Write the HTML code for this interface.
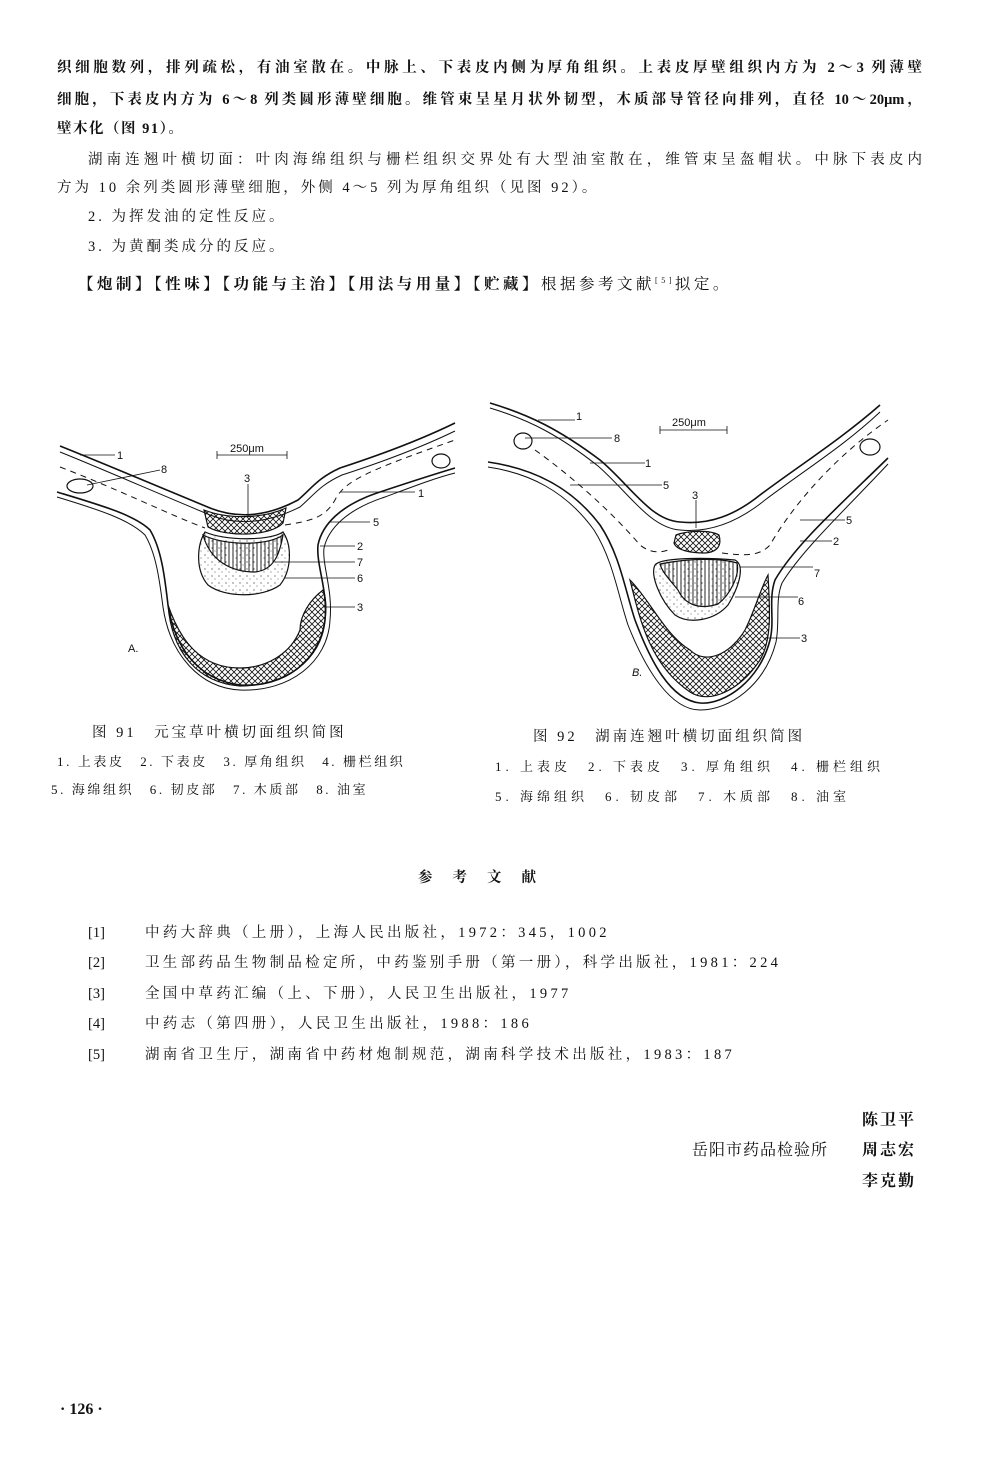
<!DOCTYPE html>
<html><head><meta charset="utf-8"><style>
body{margin:0;background:#fff;}
#p{position:relative;width:990px;height:1482px;overflow:hidden;background:#fff;color:#111;font-family:"Liberation Serif","Noto Serif CJK SC","Noto Sans CJK SC",serif;}
.l{position:absolute;white-space:nowrap;font-size:14.5px;line-height:18px;}
.j{text-align:justify;text-align-last:justify;white-space:normal;}
.b{font-weight:bold;}
.s{font-size:13px;}
svg{position:absolute;left:0;top:0;}
svg text{font-family:"Liberation Sans",sans-serif;font-size:11px;fill:#111;}
</style></head><body><div id="p">
<div class="l j b" style="left:57px;top:59px;width:865px">织细胞数列，排列疏松，有油室散在。中脉上、下表皮内侧为厚角组织。上表皮厚壁组织内方为 2～3 列薄壁</div>
<div class="l j b" style="left:57px;top:91px;width:865px">细胞，下表皮内方为 6～8 列类圆形薄壁细胞。维管束呈星月状外韧型，木质部导管径向排列，直径 10～20μm，</div>
<div class="l b" style="left:57px;top:120px;letter-spacing:1.5px">壁木化（图 91）。</div>
<div class="l j" style="left:88px;top:151px;width:834px">湖南连翘叶横切面：叶肉海绵组织与栅栏组织交界处有大型油室散在，维管束呈盔帽状。中脉下表皮内</div>
<div class="l" style="left:57px;top:179px;letter-spacing:3px">方为 10 余列类圆形薄壁细胞，外侧 4～5 列为厚角组织（见图 92）。</div>
<div class="l" style="left:88px;top:208px;letter-spacing:3px">2. 为挥发油的定性反应。</div>
<div class="l" style="left:88px;top:238px;letter-spacing:3px">3. 为黄酮类成分的反应。</div>
<div class="l" style="left:78px;top:272px;font-size:15.5px;letter-spacing:3.5px"><b>【炮制】【性味】【功能与主治】【用法与用量】【贮藏】</b>根据参考文献<sup style="font-size:8px">[5]</sup>拟定。</div>

<svg width="990" height="1482" viewBox="0 0 990 1482" fill="none" stroke="#111">
<defs>
<pattern id="x" width="6" height="6" patternUnits="userSpaceOnUse"><path d="M0 0L6 6M6 0L0 6" stroke="#111" stroke-width="0.8"/></pattern>
<pattern id="v" width="4" height="6" patternUnits="userSpaceOnUse"><path d="M1 0V6" stroke="#111" stroke-width="0.9"/></pattern>
<pattern id="d" width="7" height="7" patternUnits="userSpaceOnUse"><circle cx="2" cy="2" r="0.6" fill="#333" stroke="none"/><circle cx="5" cy="5" r="0.5" fill="#333" stroke="none"/></pattern>
</defs>
<g stroke-width="1.6">
<path d="M60 446 C100 462 150 483 210 508 C240 520 270 515 298 500 C312 488 318 478 340 468 C380 455 420 440 455 423"/>
<path d="M60 452 C100 468 150 490 210 515 C240 527 270 522 300 507 C314 495 320 485 342 475 C382 462 420 448 455 431" stroke-width="1"/>
<path d="M57 492 C100 505 135 515 150 530 C162 550 165 580 168 605 C175 650 200 680 240 685 C285 688 320 660 325 620 C328 590 316 565 318 545 C322 525 340 505 380 492 C410 482 435 474 455 468"/>
<path d="M57 497 C100 510 130 520 145 535 C157 555 160 585 163 607 C170 655 200 688 240 690 C290 692 328 662 330 620 C333 590 322 565 324 548 C328 530 345 510 385 497 C412 487 435 478 455 473" stroke-width="1"/>
<path d="M60 467 C120 490 170 515 205 528" stroke-dasharray="6 5" stroke-width="1"/>
<path d="M285 525 C310 521 325 518 335 500 C345 480 370 470 455 440" stroke-dasharray="6 5" stroke-width="1"/>
<ellipse cx="80" cy="486" rx="13" ry="7" stroke-width="1.2"/>
<ellipse cx="441" cy="461" rx="9" ry="7" stroke-width="1.2"/>
<path d="M204 510 C230 520 265 518 286 508 L283 523 C270 537 225 537 208 527 Z" fill="url(#x)" stroke-width="1.2"/>
<path d="M205 532 C197 545 195 570 208 585 C225 598 262 598 280 585 C292 570 292 545 283 532 C270 541 225 541 205 532 Z" fill="url(#d)" stroke-width="1.2"/>
<path d="M203 535 C210 560 230 572 255 572 C275 570 280 552 283 535 C268 546 225 546 203 535 Z" fill="url(#v)" stroke-width="1.2"/>
<path d="M168 605 C172 655 200 683 240 686 C285 686 322 660 325 620 C327 605 325 595 323 590 C310 600 300 615 300 630 C290 655 265 668 240 668 C200 668 180 640 168 605 Z" fill="url(#x)" stroke-width="1.2"/>
</g>
<g stroke-width="0.8">
<path d="M80 455H115M87 485L160 470M217 455H287M217 451V459M287 451V459M248 484V516M340 492H415M330 522H370M320 546H355M275 562H355M285 578H355M323 607H355"/>
</g>
<g stroke="none">
<text x="117" y="459">1</text><text x="161" y="473">8</text><text x="230" y="452" font-size="10">250μm</text><text x="244" y="482">3</text>
<text x="418" y="497">1</text><text x="373" y="526">5</text><text x="357" y="550">2</text><text x="357" y="566">7</text><text x="357" y="582">6</text><text x="357" y="611">3</text>
<text x="128" y="652" font-size="15">A.</text>
</g>
<g stroke-width="1.6">
<path d="M490 403 C530 415 560 430 600 460 C630 485 650 520 680 522 C710 525 735 515 760 495 C800 465 840 440 880 405"/>
<path d="M490 408 C530 420 560 436 598 466 C628 492 650 528 680 530 C710 533 738 522 765 500 C805 470 845 445 880 412" stroke-width="1"/>
<path d="M488 462 C530 468 570 485 600 525 C620 555 625 590 635 620 C650 660 670 700 700 703 C725 705 760 680 770 640 C775 620 768 600 775 580 C795 545 840 505 888 458"/>
<path d="M488 467 C528 473 565 490 594 530 C613 560 618 595 628 625 C645 668 670 710 700 710 C730 710 765 685 776 642 C780 622 775 600 782 583 C802 550 845 510 888 464" stroke-width="1"/>
<path d="M535 450 C570 475 610 510 640 545 C650 553 660 553 668 550" stroke-dasharray="6 5" stroke-width="1"/>
<path d="M722 553 C745 556 760 556 770 545 C790 510 830 460 888 420" stroke-dasharray="6 5" stroke-width="1"/>
<ellipse cx="523" cy="441" rx="9" ry="8" stroke-width="1.2"/>
<ellipse cx="870" cy="447" rx="10" ry="8" stroke-width="1.2"/>
<path d="M676 535 C690 530 710 530 719 535 C722 545 718 552 705 553 C690 553 676 550 674 543 Z" fill="url(#x)" stroke-width="1.2"/>
<path d="M655 565 C660 558 700 557 735 560 C745 565 740 585 728 605 C715 620 690 625 675 615 C660 600 650 575 655 565 Z" fill="url(#d)" stroke-width="1.2"/>
<path d="M660 564 C690 558 720 558 737 563 C740 575 730 595 718 604 C700 610 685 605 678 590 C670 580 662 572 660 564 Z" fill="url(#v)" stroke-width="1.2"/>
<path d="M630 580 C640 620 650 665 690 692 C710 705 740 690 760 660 C772 640 770 610 768 575 C760 590 755 610 745 630 C730 655 705 665 690 650 C665 635 650 600 630 580 Z" fill="url(#x)" stroke-width="1.2"/>
</g>
<g stroke-width="0.8">
<path d="M538 420H575M525 438H612M590 463H645M570 485H662M660 430H727M660 426V434M727 426V434M696 500V528M800 520H845M800 541H832M740 567H813M735 597H798M765 638H800"/>
</g>
<g stroke="none">
<text x="576" y="420">1</text><text x="614" y="442">8</text><text x="645" y="467">1</text><text x="663" y="489">5</text>
<text x="672" y="426" font-size="10">250μm</text><text x="692" y="499">3</text>
<text x="846" y="524">5</text><text x="833" y="545">2</text><text x="814" y="577">7</text><text x="798" y="605">6</text><text x="801" y="642">3</text>
<text x="632" y="676" font-size="14" font-style="italic">B.</text>
</g>
</svg>

<div class="l" style="left:92px;top:724px;font-size:14.5px;letter-spacing:3px">图 91　元宝草叶横切面组织简图</div>
<div class="l s" style="left:57px;top:753px;letter-spacing:2.6px">1. 上表皮　2. 下表皮　3. 厚角组织　4. 栅栏组织</div>
<div class="l s" style="left:51px;top:781px;letter-spacing:2.6px">5. 海绵组织　6. 韧皮部　7. 木质部　8. 油室</div>
<div class="l" style="left:533px;top:728px;font-size:14.5px;letter-spacing:3px">图 92　湖南连翘叶横切面组织简图</div>
<div class="l s" style="left:495px;top:758px;letter-spacing:4px">1. 上表皮　2. 下表皮　3. 厚角组织　4. 栅栏组织</div>
<div class="l s" style="left:495px;top:788px;letter-spacing:4px">5. 海绵组织　6. 韧皮部　7. 木质部　8. 油室</div>

<div class="l b" style="left:418px;top:869px;letter-spacing:20px">参考文献</div>
<div class="l" style="left:88px;top:924px">[1]</div><div class="l" style="left:145px;top:924px;letter-spacing:3.3px">中药大辞典（上册），上海人民出版社，1972：345，1002</div>
<div class="l" style="left:88px;top:954px">[2]</div><div class="l" style="left:145px;top:954px;letter-spacing:3.3px">卫生部药品生物制品检定所，中药鉴别手册（第一册），科学出版社，1981：224</div>
<div class="l" style="left:88px;top:985px">[3]</div><div class="l" style="left:145px;top:985px;letter-spacing:3.3px">全国中草药汇编（上、下册），人民卫生出版社，1977</div>
<div class="l" style="left:88px;top:1015px">[4]</div><div class="l" style="left:145px;top:1015px;letter-spacing:3.3px">中药志（第四册），人民卫生出版社，1988：186</div>
<div class="l" style="left:88px;top:1046px">[5]</div><div class="l" style="left:145px;top:1046px;letter-spacing:3.3px">湖南省卫生厅，湖南省中药材炮制规范，湖南科学技术出版社，1983：187</div>

<div class="l b" style="left:862px;top:1112px;font-size:16px;letter-spacing:2px">陈卫平</div>
<div class="l" style="left:692px;top:1142px;font-size:16px;letter-spacing:1px">岳阳市药品检验所</div>
<div class="l b" style="left:862px;top:1142px;font-size:16px;letter-spacing:2px">周志宏</div>
<div class="l b" style="left:862px;top:1173px;font-size:16px;letter-spacing:2px">李克勤</div>
<div class="l b" style="left:60px;top:1401px;font-size:16px">· 126 ·</div>
</div></body></html>
